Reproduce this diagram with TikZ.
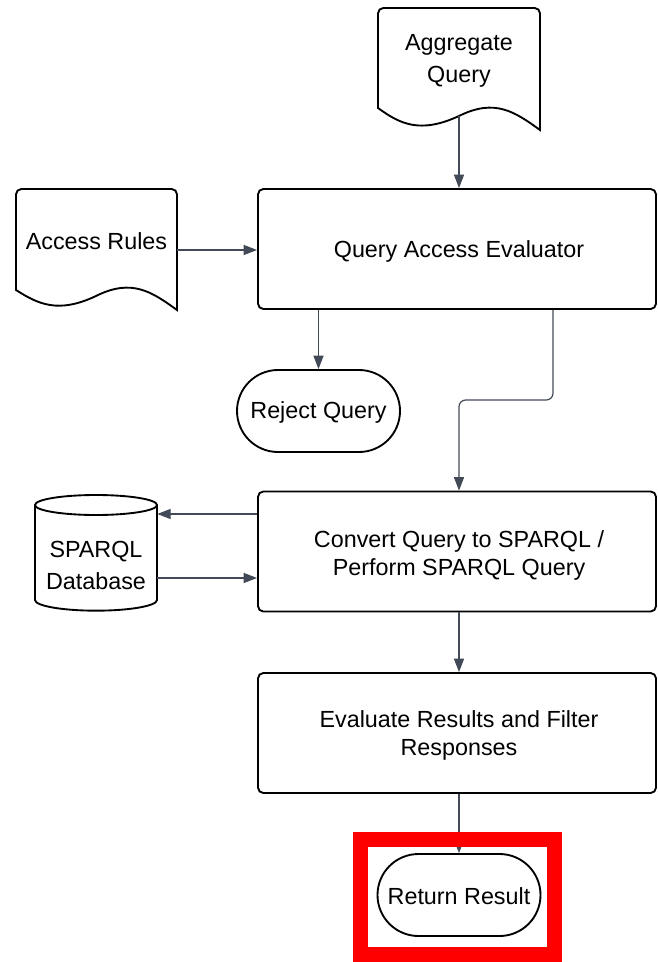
\documentclass[tikz,border=0pt]{standalone}
\usepackage{fontspec}
\setmainfont{Liberation Sans}
\usetikzlibrary{arrows.meta,shapes.misc}
\definecolor{linec}{HTML}{434A57}
\definecolor{hired}{HTML}{FF0000}
\newcommand{\fsz}{\fontsize{17.5}{21}\selectfont}
\tikzset{
  shp/.style={draw=black, line width=1.4pt},
  conn/.style={draw=linec, line width=0.9pt, -{Triangle[length=10pt,width=7.5pt]}},
  procbox/.style={shp, rounded corners=4pt, minimum width=298.5pt, minimum height=90pt, inner sep=0pt},
  termbox/.style={shp, rounded rectangle, minimum width=122.25pt, minimum height=61.5pt, inner sep=0pt, font=\fsz},
  txt/.style={font=\fsz, align=center, inner sep=0pt}
}
\begin{document}
\begin{tikzpicture}[x=0.75pt,y=-0.75pt]
\useasboundingbox (0,0) rectangle (657,962);

% Aggregate Query document
\draw[shp] (540,130) .. controls (515,112) and (495,98) .. (459,116) .. controls (420,134) and (400,124) .. (378,108) [rounded corners=4pt] -- (378,8) -- (540,8) [sharp corners] -- cycle;
\node[txt, font=\fontsize{17.5}{23.5}\selectfont] (ag) at (459,61) {Aggregate\\Query};
\coordinate (agb) at (459,116);

% Access Rules document
\draw[shp] (177,310) .. controls (152,292) and (132,278) .. (96,296) .. controls (58,314) and (38,304) .. (16,290) [rounded corners=4pt] -- (16,189) -- (177,189) [sharp corners] -- cycle;
\node[txt, minimum width=120.75pt] (ar) at (96.5,241) {Access Rules};

% Query Access Evaluator
\node[procbox] (qae) at (457,249) {};
\node[txt] (qaet) at (459,251) {Query Access Evaluator};

% Reject Query
\node[termbox] (rj) at (318.5,411) {};
\node[txt] (rjt) at (318.5,412) {Reject Query};

% Convert box
\node[procbox] (cv) at (457,551.5) {};
\node[txt] (cvt) at (459,555) {Convert Query to SPARQL /\\Perform SPARQL Query};

% SPARQL Database cylinder
\draw[shp] (96,505) ellipse [x radius=45.75pt, y radius=7.5pt];
\draw[shp] (35,505) -- (35,600) arc[start angle=180, end angle=360, x radius=45.75pt, y radius=8pt] -- (157,505);
\node[txt, font=\fontsize{17.5}{24}\selectfont, minimum width=91.5pt] (db) at (96,565) {SPARQL\\Database};

% Evaluate box
\node[procbox] (ev) at (457,733) {};
\node[txt] (evt) at (459,735) {Evaluate Results and Filter\\Responses};

% Return Result
\node[termbox] (rr) at (459,895) {};
\node[txt] (rrt) at (459,896) {Return Result};

% connectors
\draw[conn] (agb) -- (qae.north -| agb);
\draw[conn] (ar.east |- 0,250) -- (qae.west |- 0,250);
\draw[conn] (qae.south -| rj.north) -- (rj.north);
\coordinate (bend) at (459,400);
\draw[conn, rounded corners=5pt] (qae.south -| 553,0) |- (bend) -- (cv.north -| bend);
\draw[conn] (cv.west |- 0,514) -- (db.east |- 0,514);
\draw[conn] (db.east |- 0,578) -- (cv.west |- 0,578);
\draw[conn] (cv.south -| 459,0) -- (ev.north -| 459,0);
\draw[conn] (ev.south -| rr.north) -- (rr.north);

% highlight
\draw[hired, line width=11.25pt] (360,839) rectangle (554,954.5);
\end{tikzpicture}
\end{document}
